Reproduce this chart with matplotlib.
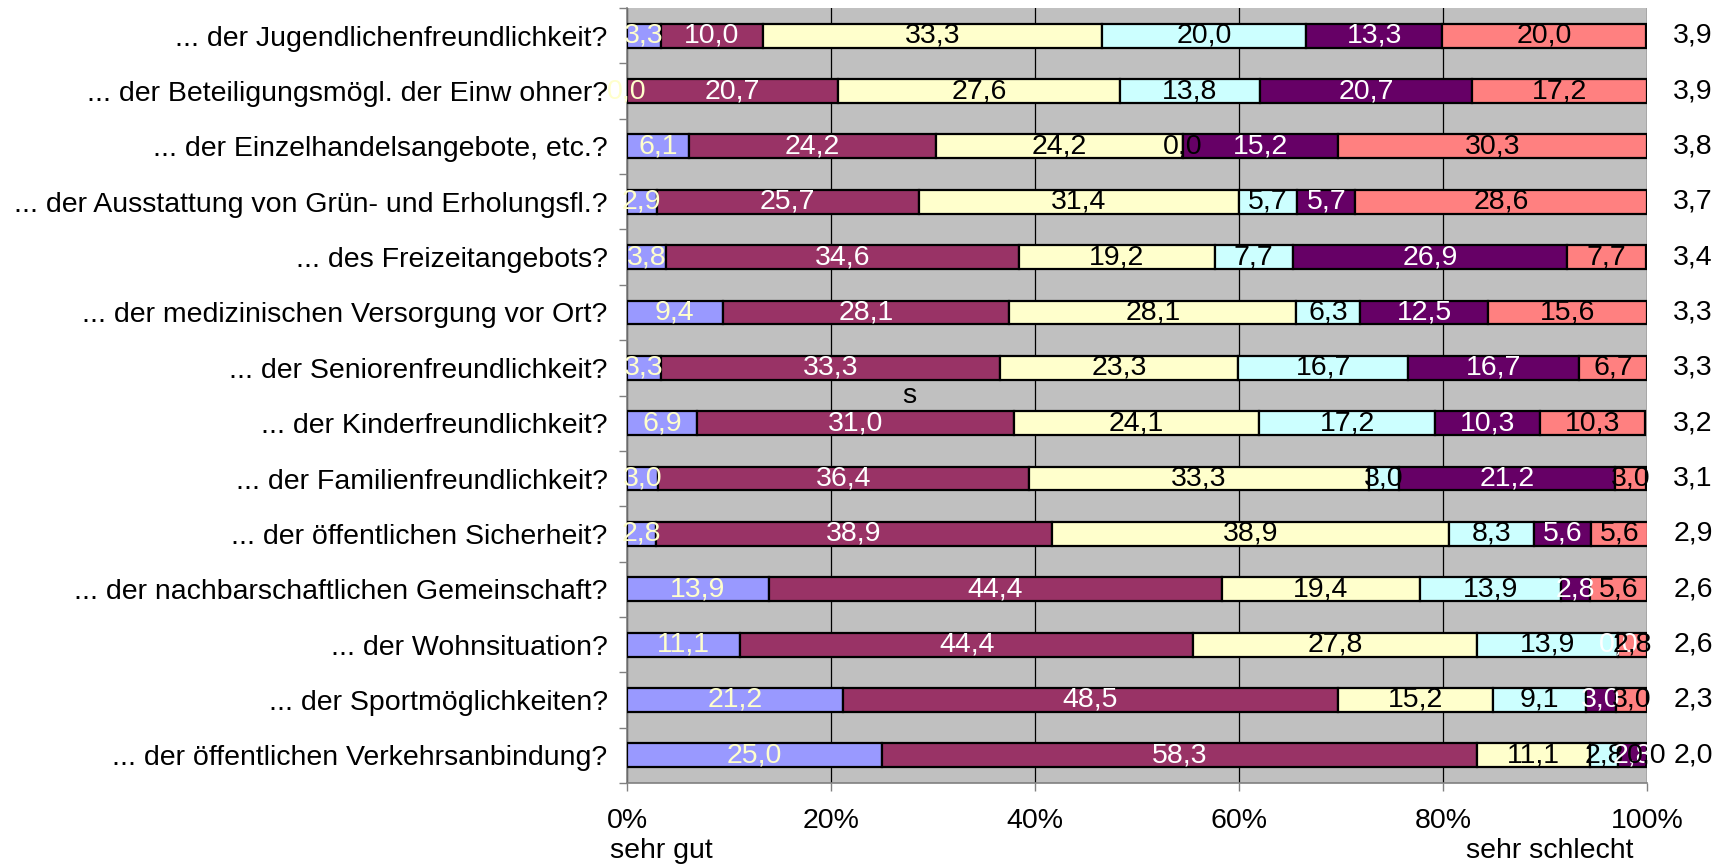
import matplotlib
matplotlib.use("Agg")
import matplotlib.pyplot as plt
import numpy as np

plt.rcParams['font.family'] = ['Liberation Sans', 'DejaVu Sans']

questions = [
    "... der Jugendlichenfreundlichkeit?",
    "... der Beteiligungsmögl. der Einw ohner?",
    "... der Einzelhandelsangebote, etc.?",
    "... der Ausstattung von Grün- und Erholungsfl.?",
    "... des Freizeitangebots?",
    "... der medizinischen Versorgung vor Ort?",
    "... der Seniorenfreundlichkeit?",
    "... der Kinderfreundlichkeit?",
    "... der Familienfreundlichkeit?",
    "... der öffentlichen Sicherheit?",
    "... der nachbarschaftlichen Gemeinschaft?",
    "... der Wohnsituation?",
    "... der Sportmöglichkeiten?",
    "... der öffentlichen Verkehrsanbindung?",
]

# shares per rating 1 (sehr gut) .. 6 (sehr schlecht), in percent
note1 = [3.3, 0.0, 6.1, 2.9, 3.8, 9.4, 3.3, 6.9, 3.0, 2.8, 13.9, 11.1, 21.2, 25.0]
note2 = [10.0, 20.7, 24.2, 25.7, 34.6, 28.1, 33.3, 31.0, 36.4, 38.9, 44.4, 44.4, 48.5, 58.3]
note3 = [33.3, 27.6, 24.2, 31.4, 19.2, 28.1, 23.3, 24.1, 33.3, 38.9, 19.4, 27.8, 15.2, 11.1]
note4 = [20.0, 13.8, 0.0, 5.7, 7.7, 6.3, 16.7, 17.2, 3.0, 8.3, 13.9, 13.9, 9.1, 2.8]
note5 = [13.3, 20.7, 15.2, 5.7, 26.9, 12.5, 16.7, 10.3, 21.2, 5.6, 2.8, 0.0, 3.0, 2.8]
note6 = [20.0, 17.2, 30.3, 28.6, 7.7, 15.6, 6.7, 10.3, 3.0, 5.6, 5.6, 2.8, 3.0, 0.0]
mittelwert = [3.9, 3.9, 3.8, 3.7, 3.4, 3.3, 3.3, 3.2, 3.1, 2.9, 2.6, 2.6, 2.3, 2.0]

series = [note1, note2, note3, note4, note5, note6]
colors = ["#9999FF", "#993366", "#FFFFCC", "#CCFFFF", "#660066", "#FF8080"]
text_colors = ["#FFFFCC", "white", "black", "black", "white", "black"]

FS = 20.5


def fmt(v):
    return f"{v:.1f}".replace(".", ",")


fig = plt.figure(figsize=(17.31, 8.68), dpi=100)
ax = fig.add_axes([0.3622, 0.0979, 0.5893, 0.8929])
ax.set_facecolor("#C0C0C0")

y = np.arange(len(questions))
left = np.zeros(len(questions))
for vals, c, tc in zip(series, colors, text_colors):
    vals = np.array(vals)
    ax.barh(y, vals, left=left, height=0.43, color=c, edgecolor="black",
            linewidth=1.6, zorder=3)
    for yi, l, v in zip(y, left, vals):
        ax.text(l + v / 2, yi, fmt(v), ha="center", va="center",
                color=tc, fontsize=FS, zorder=4, clip_on=False)
    left += vals

ax.set_xlim(0, 100)
ax.set_ylim(len(questions) - 0.5, -0.5)

ax.set_xticks(np.arange(0, 101, 20))
ax.set_xticklabels([f"{t}%" for t in range(0, 101, 20)], fontsize=FS)
ax.xaxis.grid(True, color="black", linewidth=0.9, zorder=1)
ax.tick_params(axis="x", direction="out", length=6, width=1, color="#808080", pad=12)

ax.set_yticks(y)
ax.set_yticklabels(questions, fontsize=FS)
ax.set_yticks(np.arange(-0.5, len(questions), 1), minor=True)
ax.tick_params(axis="y", which="major", length=0, pad=14)
ax.tick_params(axis="y", which="minor", direction="out", length=6, width=1, color="#808080")

for s in ["top", "right"]:
    ax.spines[s].set_visible(False)
for s in ["left", "bottom"]:
    ax.spines[s].set_color("#808080")
    ax.spines[s].set_linewidth(1.2)

# mean values on the right
trans = ax.get_yaxis_transform()
for yi, m in zip(y, mittelwert):
    ax.text(1.045, yi, fmt(m), transform=trans, ha="center", va="center",
            fontsize=FS, clip_on=False)

# stray letter in the original
ax.text(27.7, 6.5, "s", ha="center", va="center", fontsize=FS, zorder=4)

fig.text(610 / 1731, 1 - 858 / 868, "sehr gut", ha="left", va="baseline", fontsize=FS)
fig.text(1634 / 1731, 1 - 858 / 868, "sehr schlecht", ha="right", va="baseline", fontsize=FS)

fig.savefig("out.png", dpi=100)
